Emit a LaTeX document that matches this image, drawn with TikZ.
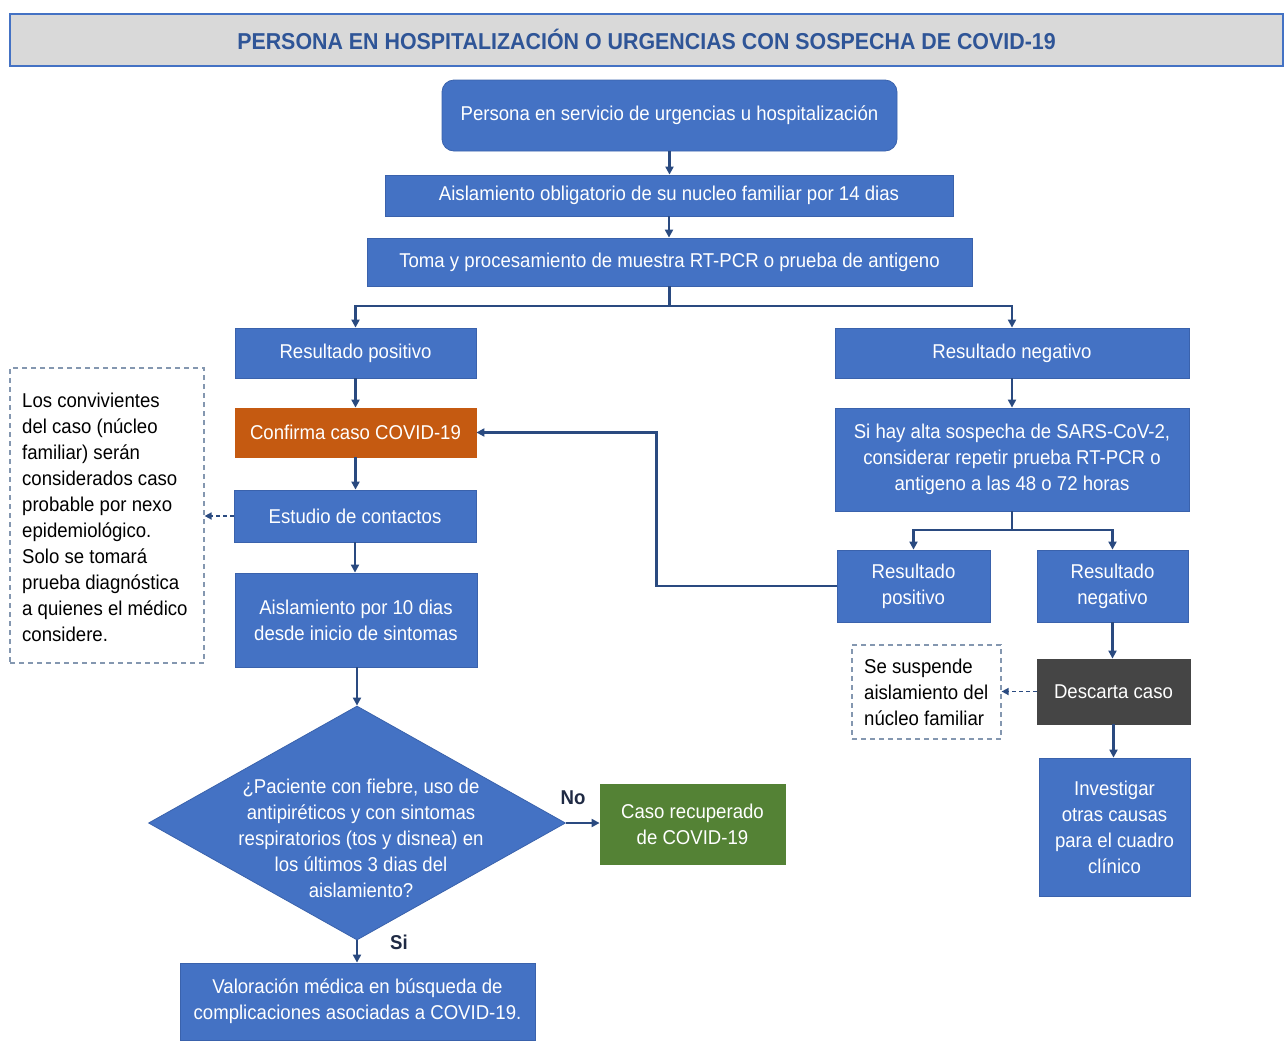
\documentclass[tikz,border=0pt]{standalone}
\usepackage{fontspec}
\setmainfont[FakeStretch=0.93]{Liberation Sans}
\usetikzlibrary{shapes.geometric,arrows.meta}
\definecolor{boxblue}{HTML}{4472C4}
\definecolor{boxedge}{HTML}{3A62AC}
\definecolor{arrowblue}{HTML}{2A4A80}
\definecolor{titlefill}{HTML}{D9D9D9}
\definecolor{titletext}{HTML}{2F5597}
\definecolor{orangebox}{HTML}{C55A11}
\definecolor{greenbox}{HTML}{548235}
\definecolor{graybox}{HTML}{454545}
\definecolor{notedash}{HTML}{8497B0}
\definecolor{labeltext}{HTML}{1F2A44}
\begin{document}
\begin{tikzpicture}[x=1pt,y=-1pt,
  base/.style={font=\fontsize{20}{26}\selectfont, inner sep=0pt, align=center},
  bluebox/.style={base, draw=boxedge, line width=0.8pt, fill=boxblue, text=white},
  colbox/.style={base, draw=#1, line width=0.8pt, fill=#1, text=white},
  notebox/.style={base, draw=notedash, dashed, line width=1.2pt, dash pattern=on 5pt off 4pt, fill=white, text=black},
  arr/.style={draw=arrowblue, line width=2.6pt, -{Triangle[length=8pt,width=8pt]}},
  plain/.style={draw=arrowblue, line width=2.6pt},
  darr/.style={draw=arrowblue, line width=1.6pt, dash pattern=on 4pt off 3pt, -{Triangle[length=7pt,width=7pt]}},
  lab/.style={font=\fontsize{20}{24}\selectfont\bfseries, text=labeltext, inner sep=0pt}
]
\useasboundingbox (0,0) rectangle (1286,1042);

% title
\node[draw=boxblue, line width=2pt, fill=titlefill, minimum width=1273pt, minimum height=52pt, inner sep=0pt,
  font=\fontsize{23}{26}\selectfont\bfseries, text=titletext] (title) at (646.5,40)
  {\raisebox{2pt}{PERSONA EN HOSPITALIZACIÓN O URGENCIAS CON SOSPECHA DE COVID-19}};

% main column
\node[bluebox, rounded corners=12pt, minimum width=455pt, minimum height=71pt] (b1) at (669.5,115.5)
  {Persona en servicio de urgencias u hospitalización};
\node[bluebox, minimum width=568pt, minimum height=41pt] (b2) at (669,195.5)
  {Aislamiento obligatorio de su nucleo familiar por 14 dias};
\node[bluebox, minimum width=605pt, minimum height=48pt] (b3) at (669.5,262)
  {Toma y procesamiento de muestra RT-PCR o prueba de antigeno};

% left branch
\node[bluebox, minimum width=241pt, minimum height=50pt] (pos) at (355.5,353) {Resultado positivo};
\node[colbox=orangebox, minimum width=241pt, minimum height=49pt] (conf) at (355.5,432.5) {Confirma caso COVID-19};
\node[bluebox, minimum width=242pt, minimum height=52pt] (est) at (355,516) {Estudio de contactos};
\node[bluebox, minimum width=242pt, minimum height=94pt] (ais) at (356,620) {Aislamiento por 10 dias\\desde inicio de sintomas};
\node[notebox, minimum width=194pt, minimum height=295pt] (note) at (107,515.5) {};
\node[base, text=black, align=left, anchor=west] (notetext) at (22,517)
  {Los convivientes\\del caso (núcleo\\familiar) serán\\considerados caso\\probable por nexo\\epidemiológico.\\Solo se tomará\\prueba diagnóstica\\a quienes el médico\\considere.};

\node[diamond, fill=boxblue, draw=boxedge, line width=0.8pt, minimum width=417pt, minimum height=234pt, inner sep=0pt] (dia) at (357,823) {};
\node[base, text=white] (diatext) at (361,838)
  {¿Paciente con fiebre, uso de\\antipiréticos y con sintomas\\respiratorios (tos y disnea) en\\los últimos 3 dias del\\aislamiento?};
\node[colbox=greenbox, minimum width=185pt, minimum height=80pt] (rec) at (692.5,824) {Caso recuperado\\de COVID-19};
\node[bluebox, minimum width=355pt, minimum height=77pt] (val) at (357.5,1001.5)
  {Valoración médica en búsqueda de\\complicaciones asociadas a COVID-19.};
\node[lab] (nolab) at (573,798) {No};
\node[lab] (silab) at (399,942) {Si};

% right branch
\node[bluebox, minimum width=354pt, minimum height=50pt] (neg) at (1012,353) {Resultado negativo};
\node[bluebox, minimum width=354pt, minimum height=103pt] (sars) at (1012,459.5)
  {Si hay alta sospecha de SARS-CoV-2,\\considerar repetir prueba RT-PCR o\\antigeno a las 48 o 72 horas};
\node[bluebox, minimum width=153pt, minimum height=72pt] (pos2) at (913.5,586) {Resultado\\positivo};
\node[bluebox, minimum width=151pt, minimum height=72pt] (neg2) at (1112.5,586) {Resultado\\negativo};
\node[colbox=graybox, minimum width=153pt, minimum height=65pt] (desc) at (1113.5,691.5) {Descarta caso};
\node[notebox, minimum width=149pt, minimum height=94pt] (note2) at (926.5,692) {};
\node[base, text=black, align=left, anchor=west] (note2text) at (864,692)
  {Se suspende\\aislamiento del\\núcleo familiar};
\node[bluebox, minimum width=151pt, minimum height=138pt] (inv) at (1114.5,827)
  {Investigar\\otras causas\\para el cuadro\\clínico};

% connectors
\draw[arr] (b1.south) -- (b1.south |- b2.north);
\draw[arr] (b2.south) -- (b2.south |- b3.north);
\coordinate (br) at (669.5,306);
\draw[plain] (b3.south) -- (br);
\draw[arr] (br) -| (pos.north);
\draw[arr] (br) -| (neg.north);
\draw[arr] (pos.south) -- (conf.north);
\draw[arr] (conf.south) -- (conf.south |- est.north);
\draw[arr] (est.south) -- (est.south |- ais.north);
\draw[arr] (ais.south -| dia.north) -- (dia.north);
\draw[arr] (dia.east) -- (dia.east -| rec.west);
\draw[arr] (dia.south) -- (dia.south |- val.north);
\draw[darr] (est.west) -- (est.west -| note.east);

\draw[arr] (neg.south) -- (sars.north);
\coordinate (br2) at (1012,530);
\draw[plain] (sars.south) -- (br2);
\draw[arr] (br2) -| (pos2.north);
\draw[arr] (br2) -| (neg2.north);
\draw[arr] (pos2.west) -- ++(-180,0) |- (conf.east);
\draw[arr] (neg2.south) -- (neg2.south |- desc.north);
\draw[arr] (desc.south) -- (desc.south |- inv.north);
\draw[darr] (desc.west) -- (desc.west -| note2.east);
\end{tikzpicture}
\end{document}
